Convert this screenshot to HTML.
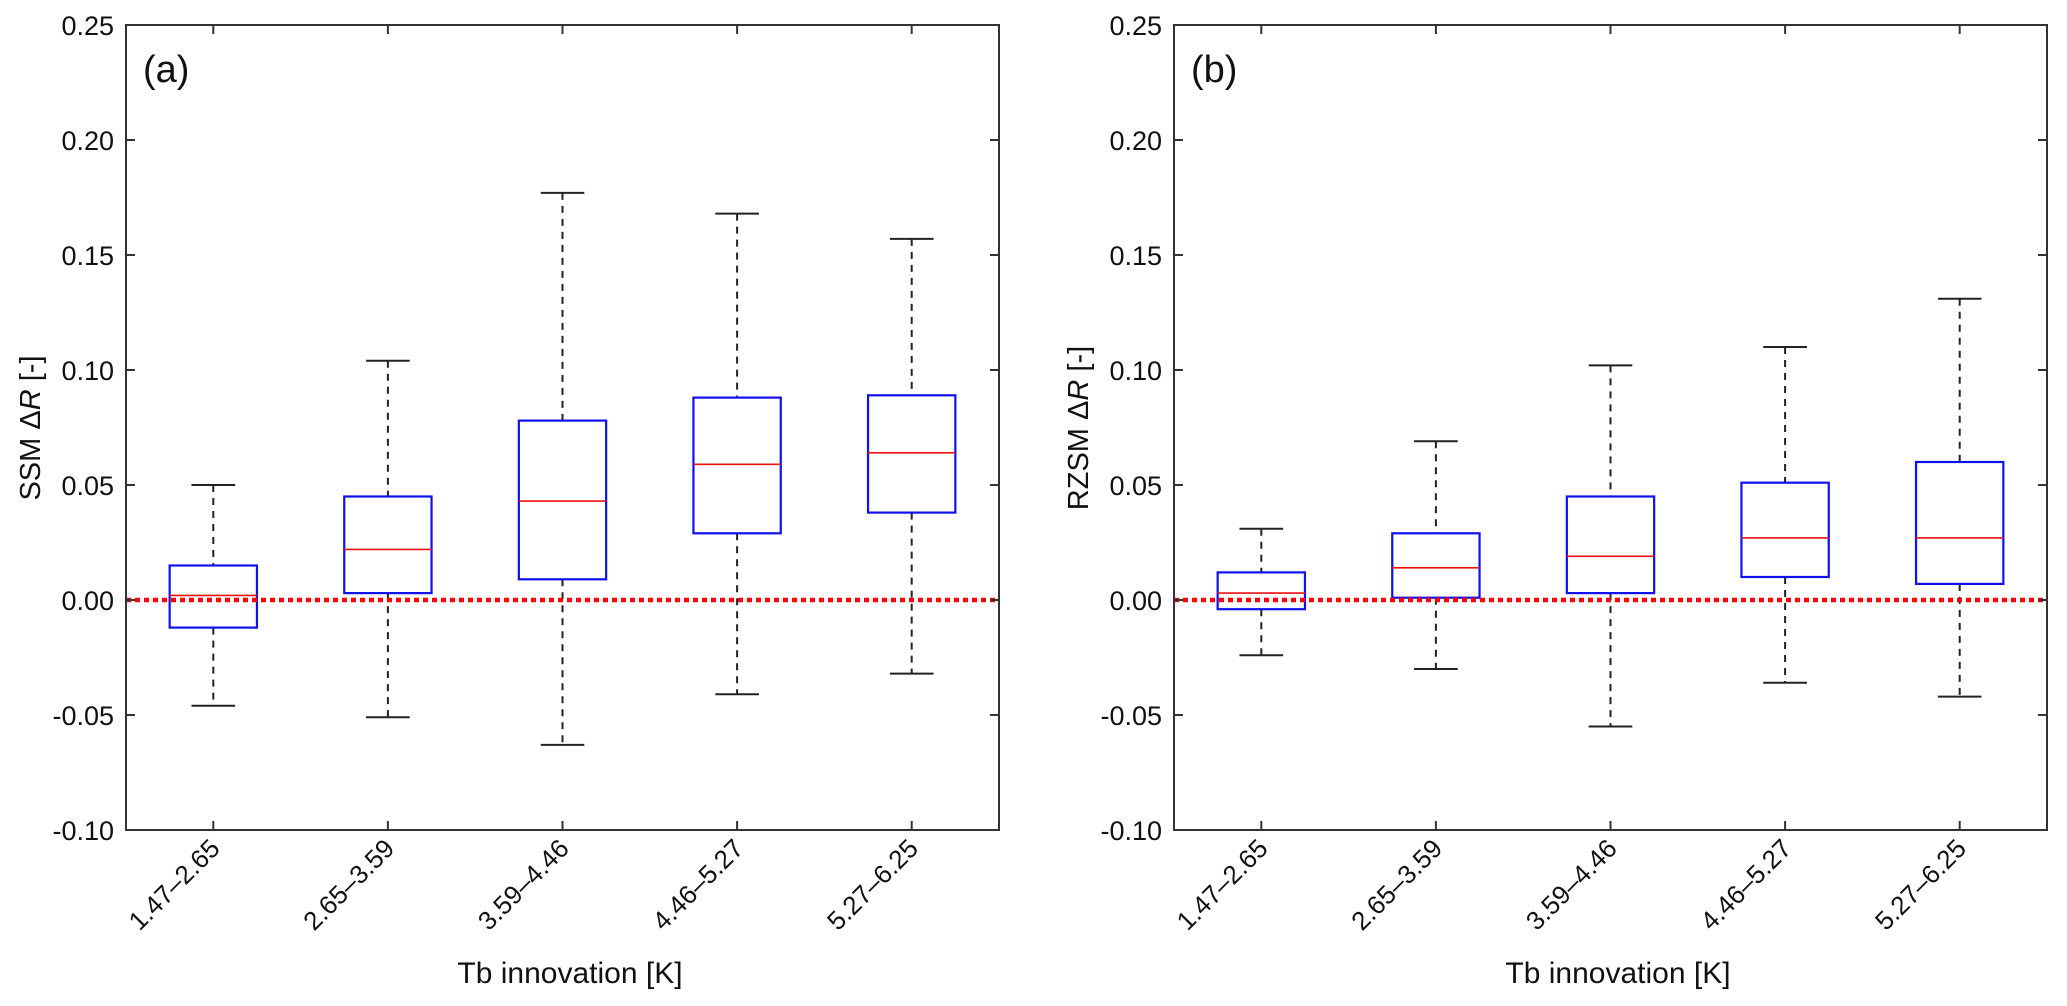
<!DOCTYPE html>
<html><head><meta charset="utf-8"><style>
html,body{margin:0;padding:0;background:#fff;}
svg{display:block;font-family:"Liberation Sans",Arial,sans-serif;}
</style></head><body>
<svg id="chart" width="2067" height="1006" viewBox="0 0 2067 1006" xmlns="http://www.w3.org/2000/svg"></svg>
<script>
const categories = ["1.47\u20132.65","2.65\u20133.59","3.59\u20134.46","4.46\u20135.27","5.27\u20136.25"];
const yTicks = [-0.10,-0.05,0.00,0.05,0.10,0.15,0.20,0.25];
const yTickLabels = ["-0.10","-0.05","0.00","0.05","0.10","0.15","0.20","0.25"];
// panel a (SSM)
const ssmWhiskerHigh = [0.050,0.104,0.177,0.168,0.157];
const ssmQ3 = [0.015,0.045,0.078,0.088,0.089];
const ssmMedian = [0.002,0.022,0.043,0.059,0.064];
const ssmQ1 = [-0.012,0.003,0.009,0.029,0.038];
const ssmWhiskerLow = [-0.046,-0.051,-0.063,-0.041,-0.032];
// panel b (RZSM)
const rzWhiskerHigh = [0.031,0.069,0.102,0.110,0.131];
const rzQ3 = [0.012,0.029,0.045,0.051,0.060];
const rzMedian = [0.003,0.014,0.019,0.027,0.027];
const rzQ1 = [-0.004,0.001,0.003,0.010,0.007];
const rzWhiskerLow = [-0.024,-0.030,-0.055,-0.036,-0.042];

const NS = "http://www.w3.org/2000/svg";
const svg = document.getElementById('chart');
function mk(tag, attrs, parent){
  const e = document.createElementNS(NS, tag);
  for (const k in attrs) e.setAttribute(k, attrs[k]);
  (parent||svg).appendChild(e);
  return e;
}
const TOP=25, BOT=830, W=873, YMIN=-0.10, YMAX=0.25;
function drawPanel(left, tag, ylabel, hi, q3, med, q1, lo){
  const g = mk('g', {});
  
  
  const x = v => left + (v - 0.5) / 5 * W;
  const y = v => BOT - (v - YMIN) / (YMAX - YMIN) * (BOT - TOP);
  for (let i = 0; i < categories.length; i++){
    const cx = x(i+1), hw = 0.25*W/5, cw = 0.125*W/5;
    const bg = mk('g', {}, g);
    
    
    const w1 = mk('line', {x1:cx, x2:cx, y1:y(hi[i]), y2:y(q3[i]), stroke:'#222', 'stroke-width':2, 'stroke-dasharray':'7,6'}, bg);
    
    
    const w2 = mk('line', {x1:cx, x2:cx, y1:y(q1[i]), y2:y(lo[i]), stroke:'#222', 'stroke-width':2, 'stroke-dasharray':'7,6'}, bg);
    
    
    const c1 = mk('line', {x1:cx-cw, x2:cx+cw, y1:y(hi[i]), y2:y(hi[i]), stroke:'#222', 'stroke-width':2}, bg);
    
    
    const c2 = mk('line', {x1:cx-cw, x2:cx+cw, y1:y(lo[i]), y2:y(lo[i]), stroke:'#222', 'stroke-width':2}, bg);
    
    
    const r = mk('rect', {x:cx-hw, y:y(q3[i]), width:2*hw, height:y(q1[i])-y(q3[i]), fill:'none', stroke:'#1010ee', 'stroke-width':2.2}, bg);
    
    
    const m = mk('line', {x1:cx-hw, x2:cx+hw, y1:y(med[i]), y2:y(med[i]), stroke:'#ee1111', 'stroke-width':1.6}, bg);
    
    
  }
  const z = mk('line', {x1:left, x2:left+W, y1:y(0), y2:y(0), stroke:'#ff0000', 'stroke-width':4.5, 'stroke-dasharray':'5,4'}, g);
  
  
  const f = mk('rect', {x:left, y:TOP, width:W, height:BOT-TOP, fill:'none', stroke:'#333', 'stroke-width':2}, g);
  
  
  for (let j = 0; j < yTicks.length; j++){
    const yy = y(yTicks[j]);
    mk('line', {x1:left, x2:left+9, y1:yy, y2:yy, stroke:'#333', 'stroke-width':2}, g);
    mk('line', {x1:left+W-9, x2:left+W, y1:yy, y2:yy, stroke:'#333', 'stroke-width':2}, g);
    const t = mk('text', {x:left-12, y:yy+10, 'text-anchor':'end', 'font-size':27, fill:'#111'}, g);
    t.textContent = yTickLabels[j];
    
    
  }
  for (let i = 0; i < categories.length; i++){
    const xx = x(i+1);
    mk('line', {x1:xx, x2:xx, y1:BOT, y2:BOT-9, stroke:'#333', 'stroke-width':2}, g);
    mk('line', {x1:xx, x2:xx, y1:TOP, y2:TOP+9, stroke:'#333', 'stroke-width':2}, g);
    const t = mk('text', {x:xx+8, y:BOT+20, 'text-anchor':'end', 'font-size':26, fill:'#111', transform:'rotate(-45 '+(xx+8)+' '+(BOT+20)+')'}, g);
    t.textContent = categories[i];
    
    
  }
  const xt = mk('text', {x:left+444, y:983, 'text-anchor':'middle', 'font-size':30, fill:'#111'}, g);
  xt.textContent = 'Tb innovation [K]';
  
  
  const yt = mk('text', {x:0, y:0, 'text-anchor':'middle', 'font-size':29, fill:'#111', transform:'translate('+(left-86)+',428) rotate(-90)'}, g);
  yt.innerHTML = ylabel + ' \u0394<tspan font-style="italic">R</tspan> [-]';
  
  
  const pl = mk('text', {x:left+17, y:82, 'font-size':38, fill:'#111'}, g);
  pl.textContent = '(' + tag + ')';
  
  
}
drawPanel(126, 'a', 'SSM', ssmWhiskerHigh, ssmQ3, ssmMedian, ssmQ1, ssmWhiskerLow);
drawPanel(1174, 'b', 'RZSM', rzWhiskerHigh, rzQ3, rzMedian, rzQ1, rzWhiskerLow);
</script>
</body></html>
